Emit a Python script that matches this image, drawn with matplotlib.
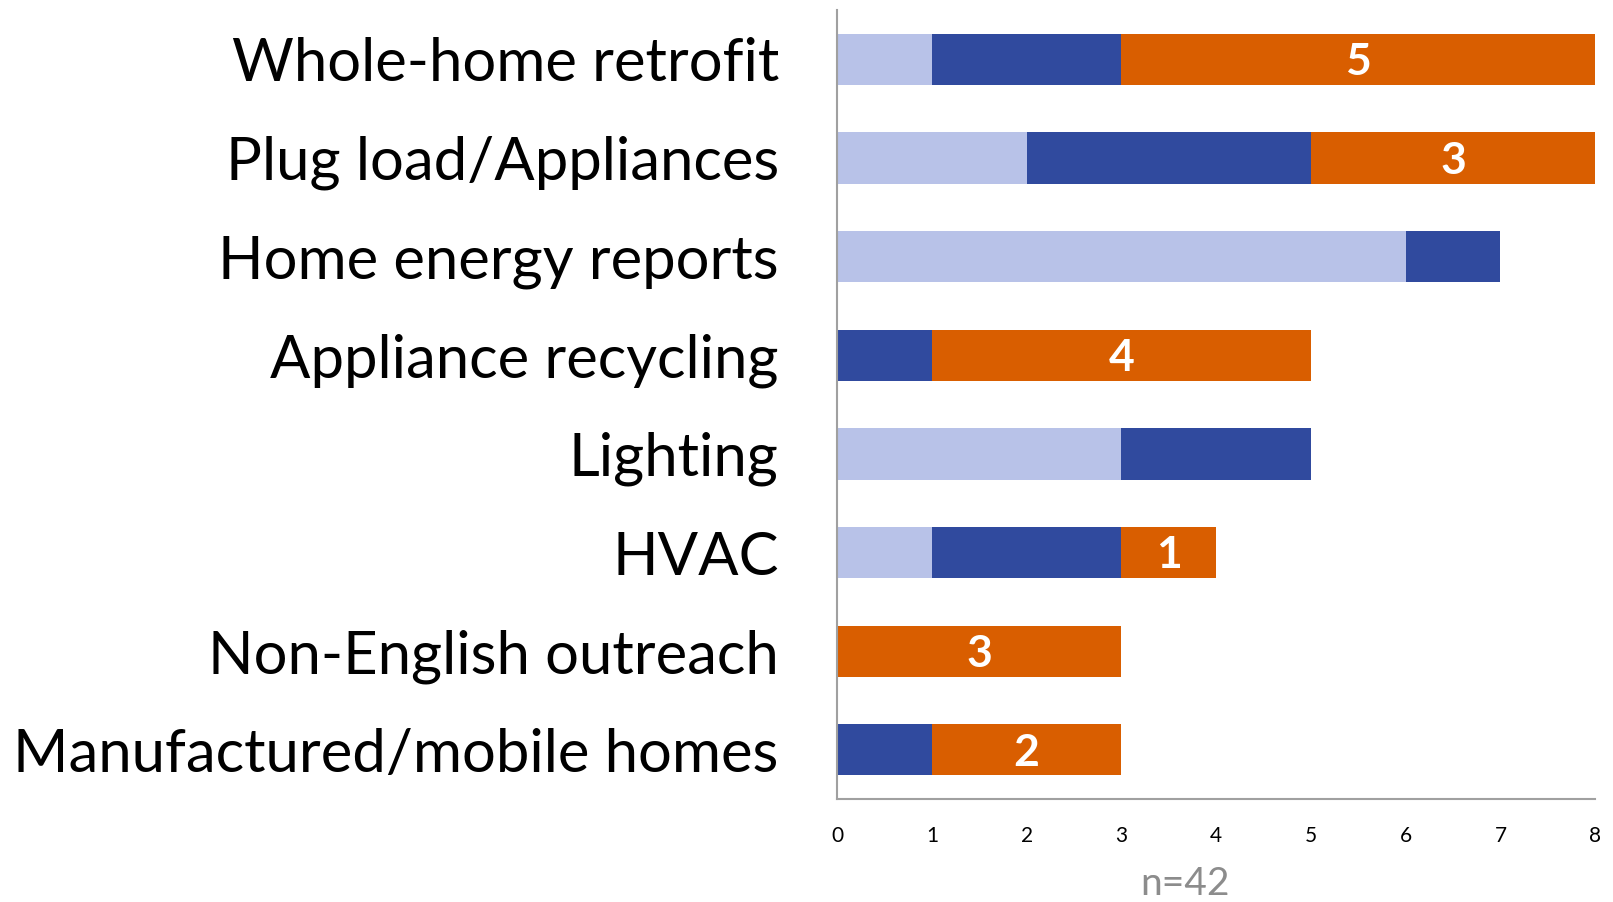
import matplotlib
matplotlib.use("Agg")
import matplotlib.pyplot as plt
import numpy as np

categories = ["Whole-home retrofit", "Plug load/Appliances", "Home energy reports",
              "Appliance recycling", "Lighting", "HVAC", "Non-English outreach",
              "Manufactured/mobile homes"]
light_vals = [1, 2, 6, 0, 3, 1, 0, 0]
dark_vals = [2, 3, 1, 1, 2, 2, 0, 1]
orange_vals = [5, 3, 0, 4, 0, 1, 3, 2]
xticks = [0, 1, 2, 3, 4, 5, 6, 7, 8]
note = "n=42"

plt.rcParams['font.family'] = ['Lato', 'DejaVu Sans']

fig = plt.figure(figsize=(16.13, 9.02), dpi=100)
ax = fig.add_axes([0.519, 0.114, 0.47, 0.875])

y = np.arange(len(categories))
h = 0.52
light_c, dark_c, orange_c = "#B8C2E8", "#304A9E", "#D95E00"
light = np.array(light_vals)
dark = np.array(dark_vals)
orange = np.array(orange_vals)
ax.barh(y, light, height=h, color=light_c)
ax.barh(y, dark, left=light, height=h, color=dark_c)
ax.barh(y, orange, left=light + dark, height=h, color=orange_c)
for yi, l, v in zip(y, light + dark, orange):
    if v > 0:
        ax.text(l + v / 2, yi + 0.03, str(v), ha="center", va="center", color="white",
                fontsize=32, fontweight="bold")

ax.set_ylim(len(categories) - 0.5, -0.5)
ax.set_xlim(0, 8)
ax.set_yticks(y)
ax.set_yticklabels(categories, fontsize=43, va="center_baseline")
ax.set_xticks(xticks)
ax.set_xticklabels([str(t) for t in xticks], fontsize=15)
ax.tick_params(axis="y", length=0, pad=42)
ax.tick_params(axis="x", length=0, pad=19)
for s in ["top", "right"]:
    ax.spines[s].set_visible(False)
for s in ["left", "bottom"]:
    ax.spines[s].set_color("#A0A0A0")
    ax.spines[s].set_linewidth(1.5)

fig.text(1185 / 1613, 1 - 884 / 902, note, ha="center", va="center",
         fontsize=28, color="#8C8C8C")

fig.savefig("out.png", dpi=100)
